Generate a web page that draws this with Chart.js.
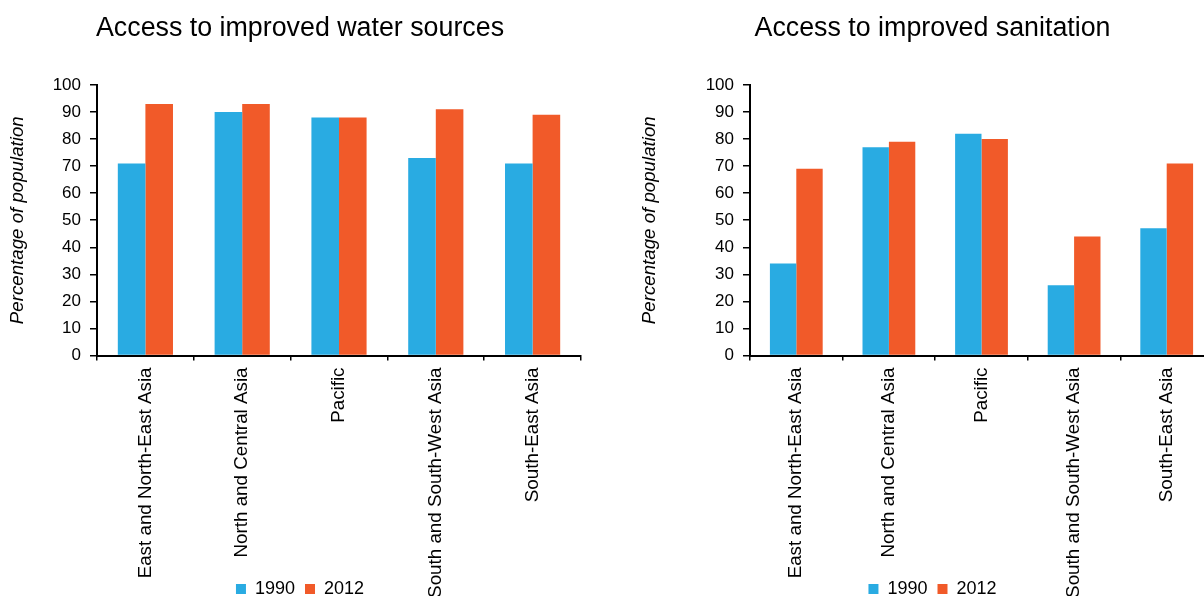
<!DOCTYPE html>
<html>
<head>
<meta charset="utf-8">
<script src="https://cdn.jsdelivr.net/npm/chart.js@4.4.1/dist/chart.umd.min.js"></script>
<style>
    html, body { margin: 0; padding: 0; background: #fff; overflow: hidden; }
    body { width: 1204px; height: 596px; position: relative; }
    .panel { position: absolute; top: 0; }
</style>
</head>
<body>
<div class="panel" style="left:0px"><canvas id="waterChart" width="602" height="596" style="width:602px;height:596px"></canvas></div>
<div class="panel" style="left:602px"><canvas id="sanitationChart" width="624" height="596" style="width:624px;height:596px"></canvas></div>
<script>
// Data
const regions = [
    'East and North-East Asia',
    'North and Central Asia',
    'Pacific',
    'South and South-West Asia',
    'South-East Asia'
];
const years = ['1990', '2012'];
const water1990 = [71, 90, 88, 73, 71];
const water2012 = [93, 93, 88, 91, 89];
const sanitation1990 = [34, 77, 82, 26, 47];
const sanitation2012 = [69, 79, 80, 44, 71];
const yMin = 0;
const yMax = 100;
const yStep = 10;

const FONT = "'Liberation Sans', Arial, sans-serif";
const BLUE = '#29ABE2';
const ORANGE = '#F15A29';

// Build one panel
function makeChart(canvasId, title, values1990, values2012, geom) {
    const ctx = document.getElementById(canvasId).getContext('2d');
    return new Chart(ctx, {
        type: 'bar',
        data: {
            labels: regions,
            datasets: [
                { label: years[0], data: values1990, backgroundColor: BLUE, borderWidth: 0 },
                { label: years[1], data: values2012, backgroundColor: ORANGE, borderWidth: 0 }
            ]
        },
        options: {
            responsive: false,
            animation: false,
            devicePixelRatio: 1,
            categoryPercentage: 0.57,
            barPercentage: 1.0,
            layout: {
                padding: { left: geom.padLeft, right: geom.padRight, top: 0, bottom: -12 }
            },
            plugins: {
                title: {
                    display: true,
                    text: title,
                    color: '#000',
                    font: { family: FONT, size: 26.8, weight: 'normal' },
                    padding: { top: 13, bottom: 39.8 }
                },
                legend: {
                    display: true,
                    position: 'bottom',
                    labels: {
                        color: '#000',
                        font: { family: FONT, size: 18 },
                        boxWidth: 10,
                        boxHeight: 10,
                        padding: 10
                    }
                },
                tooltip: { enabled: false }
            },
            scales: {
                x: {
                    grid: {
                        display: true,
                        offset: true,
                        drawOnChartArea: false,
                        drawTicks: true,
                        tickLength: 5,
                        color: '#000',
                        lineWidth: 1.5
                    },
                    border: { display: true, color: '#000', width: 2 },
                    ticks: {
                        autoSkip: false,
                        minRotation: 90,
                        maxRotation: 90,
                        padding: 7,
                        color: '#000',
                        font: { family: FONT, size: 18.8 }
                    },
                    afterFit: (axis) => {
                        axis.height = 214.5;
                        // long labels run past the axis box into the legend row, as in the original
                        axis._computeLabelArea = () => undefined;
                    }
                },
                y: {
                    min: yMin,
                    max: yMax,
                    grid: {
                        display: true,
                        drawOnChartArea: false,
                        drawTicks: true,
                        tickLength: 7,
                        color: '#000',
                        lineWidth: 1.5
                    },
                    border: { display: true, color: '#000', width: 2 },
                    ticks: {
                        stepSize: yStep,
                        padding: 9,
                        color: '#000',
                        font: { family: FONT, size: 17 }
                    },
                    title: {
                        display: true,
                        text: 'Percentage of population',
                        color: '#000',
                        font: { family: FONT, size: 18.7, style: 'italic' },
                        padding: 0
                    },
                    afterFit: (axis) => { axis.width = geom.yWidth; }
                },
                // empty right spacer so title and legend centre like the original
                spacer: {
                    type: 'linear',
                    position: 'right',
                    display: true,
                    grid: { display: false },
                    border: { display: false },
                    ticks: { display: false },
                    afterFit: (axis) => { axis.width = geom.spacer; }
                }
            }
        }
    });
}

makeChart('waterChart', 'Access to improved water sources', water1990, water2012,
    { padLeft: 7, padRight: 9, yWidth: 90, spacer: 12 });
makeChart('sanitationChart', 'Access to improved sanitation', sanitation1990, sanitation2012,
    { padLeft: 37, padRight: 0, yWidth: 111, spacer: 13 });
</script>
</body>
</html>
